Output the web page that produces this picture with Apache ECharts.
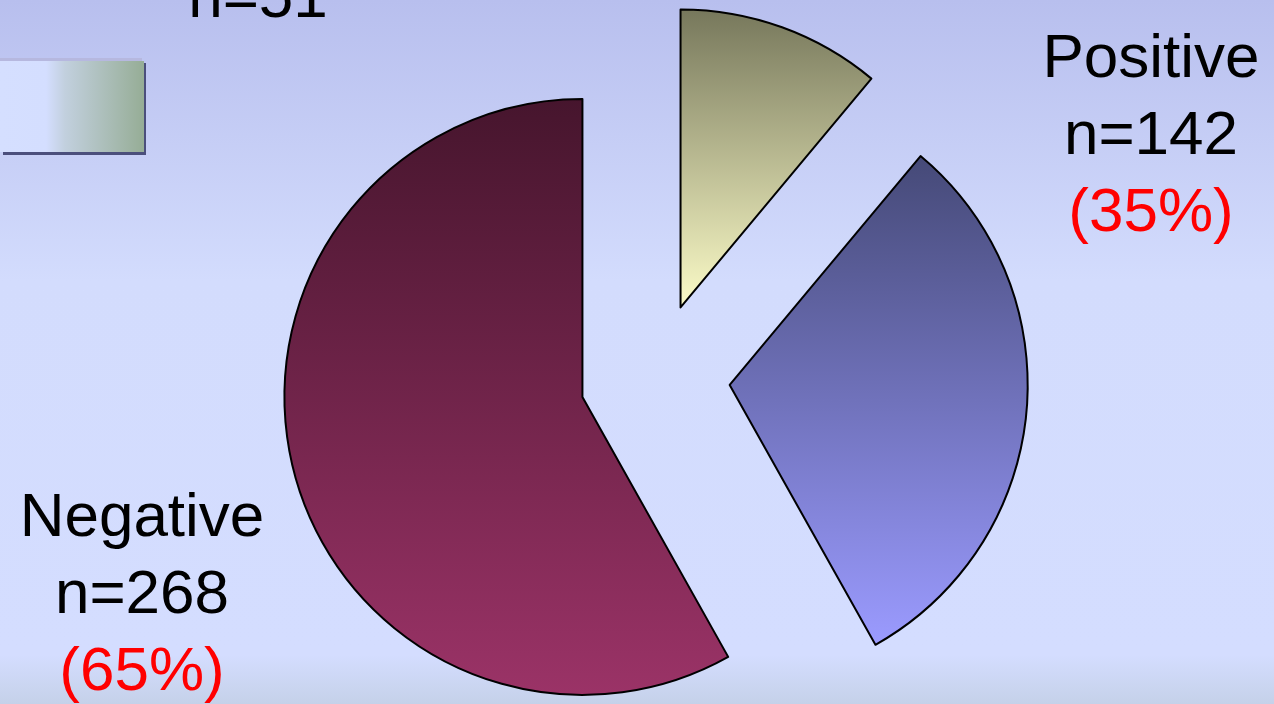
<!DOCTYPE html>
<html lang="en">
<head>
    <meta charset="UTF-8">
    <title>Pie</title>
    <script src="https://cdn.jsdelivr.net/npm/echarts@6/dist/echarts.min.js"></script>
    <style>
        html, body { margin: 0; padding: 0; }
        #main {
            width: 1274px; height: 704px;
            background: linear-gradient(to bottom, #b8bfee 0%, #d3dcfd 40%, #d4ddff 93%, #c5d1e9 100%);
        }
    </style>
</head>
<body>
    <div id="main"></div>
    <script type="text/javascript">
        // values
        const names = ['', 'Positive', 'Negative'];
        const counts = [51, 142, 268];
        const pctLabels = ['', '(35%)', '(65%)'];

        // slice colours, top -> bottom
        const topColors = ['#76775b', '#454977', '#46152d'];
        const bottomColors = ['#fcfcc8', '#9b9bff', '#9b3367'];

        // where each label block sits (centre x, top y)
        const labelPos = [[258, -39], [1151, 21], [142, 480]];

        const pieData = counts.map((v, i) => ({
            name: names[i] || 'n=' + v,
            value: v,
            selected: true,
            itemStyle: {
                color: new echarts.graphic.LinearGradient(0, 0, 0, 1, [
                    { offset: 0, color: topColors[i] },
                    { offset: 1, color: bottomColors[i] }
                ])
            }
        }));

        // label text blocks, one per slice
        const labelTexts = counts.map((v, i) => {
            let lines = [];
            if (names[i]) lines.push('{a|' + names[i] + '}');
            lines.push('{a|n=' + v + '}');
            if (pctLabels[i]) lines.push('{b|' + pctLabels[i] + '}');
            return {
                type: 'text',
                x: labelPos[i][0],
                y: labelPos[i][1],
                z: 10,
                style: {
                    text: lines.join('\n'),
                    align: 'center',
                    verticalAlign: 'top',
                    rich: {
                        a: { fill: '#000', fontSize: 62, lineHeight: 77, fontFamily: 'Liberation Sans' },
                        b: { fill: '#ff0000', fontSize: 62, lineHeight: 77, fontFamily: 'Liberation Sans' }
                    }
                }
            };
        });

        let options = {
            animation: false,
            graphic: [
                { type: 'rect', shape: { x: 0, y: 58, width: 142, height: 3 }, style: { fill: '#b6b8df' } },
                { type: 'rect', shape: { x: 3, y: 63, width: 143, height: 92 }, style: { fill: '#4b4f7c' } },
                {
                    type: 'rect', shape: { x: 0, y: 61, width: 144, height: 91 },
                    style: {
                        fill: new echarts.graphic.LinearGradient(0, 0, 1, 0, [
                            { offset: 0, color: '#d5dfff' },
                            { offset: 0.32, color: '#d4deff' },
                            { offset: 0.45, color: '#c2d0de' },
                            { offset: 1, color: '#96ad96' }
                        ])
                    }
                }
            ].concat(labelTexts),
            series: [{
                type: 'pie',
                center: [655, 378],
                radius: 298,
                startAngle: 90,
                clockwise: true,
                selectedMode: 'multiple',
                selectedOffset: 75,
                emphasis: { disabled: true },
                itemStyle: { borderColor: '#000', borderWidth: 2 },
                labelLine: { show: false },
                label: { show: false },
                data: pieData
            }]
        };

        let myChart = echarts.init(document.getElementById('main'));
        myChart.setOption(options);
    </script>
</body>
</html>
